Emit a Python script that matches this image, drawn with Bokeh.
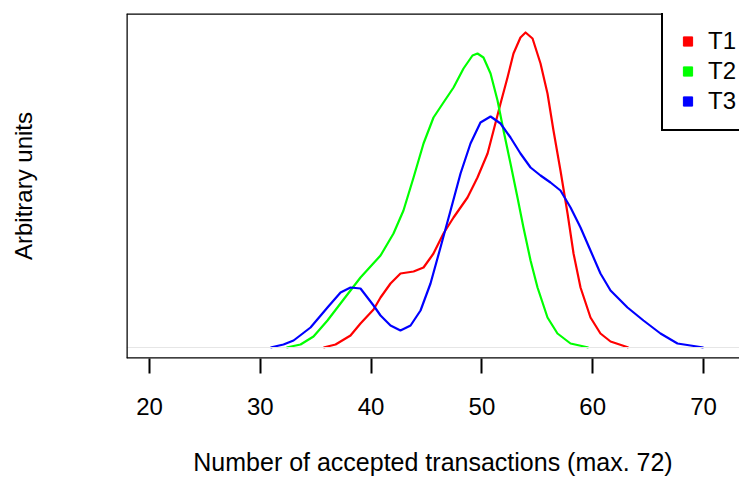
from bokeh.plotting import figure
from bokeh.models import Range1d, Span, Legend, LegendItem, FixedTicker, ColumnDataSource
from bokeh.embed import file_html
from bokeh.resources import INLINE

# ---- data ----
series_names = ["T1", "T2", "T3"]
series_colors = ["#FF0000", "#00FF00", "#0000FF"]

x_t1 = [35.70, 36.79, 38.14, 39.04, 40.22, 40.85, 41.75, 42.65, 43.83, 44.73,
        45.63, 46.53, 47.44, 48.70, 49.60, 50.51, 51.05, 51.68, 52.31, 52.85,
        53.48, 53.94, 54.57, 55.29, 55.92, 56.46, 57.09, 57.73, 58.27, 58.90,
        59.80, 60.70, 61.61, 63.23]
y_t1 = [0, 3, 12, 24, 38, 50, 64, 74, 76, 80,
        94, 114, 130, 150, 170, 194, 217, 244, 270, 294,
        310, 315, 309, 284, 254, 217, 177, 134, 94, 60,
        30, 14, 6, 0]

x_t2 = [32.36, 33.63, 34.80, 36.06, 37.51, 39.04, 40.85, 42.02, 42.92, 43.83,
        44.73, 45.63, 46.53, 47.44, 48.34, 49.15, 49.60, 50.14, 50.78, 51.41,
        51.95, 52.58, 53.21, 53.75, 54.39, 55.02, 55.92, 56.82, 58.00, 59.62]
y_t2 = [0, 3, 11, 27, 48, 70, 92, 114, 137, 170,
        204, 230, 245, 260, 279, 292, 294, 290, 274, 247,
        217, 184, 150, 120, 87, 60, 30, 14, 4, 0]

x_t3 = [30.92, 32.09, 33.00, 34.53, 36.06, 37.24, 38.14, 39.04, 40.22, 40.85,
        41.75, 42.65, 43.56, 44.46, 45.36, 46.26, 47.17, 48.07, 48.97, 49.87,
        50.78, 51.68, 52.58, 53.48, 54.39, 55.29, 56.19, 57.09, 58.00, 58.90,
        59.80, 60.70, 61.61, 63.14, 64.58, 66.12, 67.65, 70.00]
y_t3 = [0, 3, 7, 20, 40, 55, 60, 59, 42, 32,
        22, 17, 22, 37, 64, 100, 137, 174, 204, 225,
        231, 224, 210, 194, 180, 172, 165, 157, 140, 120,
        97, 74, 57, 40, 27, 14, 4, 0]

x_ticks = [20, 30, 40, 50, 60, 70]
x_label = "Number of accepted transactions (max. 72)"
y_label = "Arbitrary units"

# ---- figure ----
FONT = "Liberation Sans"
X0, X1 = 17.92, 73.25
Y0, Y1 = -11, 334

p = figure(width=739, height=479, x_range=Range1d(X0, X1), y_range=Range1d(Y0, Y1),
           output_backend="svg", toolbar_location=None,
           min_border_left=126, min_border_right=0, min_border_top=13, min_border_bottom=121)
p.outline_line_color = None
p.grid.visible = False
p.background_fill_color = "white"
p.border_fill_color = "white"

# zero baseline
p.add_layout(Span(location=0, dimension="width", line_color="#e6e6e6", line_width=1))

for xs, ys, c in zip([x_t1, x_t2, x_t3], [y_t1, y_t2, y_t3], series_colors):
    p.line(xs, ys, line_color=c, line_width=2.2, line_join="round")

# box (left, top, bottom)
for loc, dim in [(X0, "height"), (Y1, "width"), (Y0, "width")]:
    p.add_layout(Span(location=loc, dimension=dim, line_color="black", line_width=2.5))

# x axis
xa = p.xaxis[0]
xa.ticker = FixedTicker(ticks=x_ticks, minor_ticks=[])
xa.axis_line_color = None
xa.major_tick_out = 15
xa.major_tick_in = 0
xa.major_tick_line_width = 2
xa.major_tick_line_color = "black"
xa.minor_tick_line_color = None
xa.major_label_text_font = FONT
xa.major_label_text_font_size = "24px"
xa.major_label_text_color = "black"
xa.major_label_standoff = 24
xa.axis_label = x_label
xa.axis_label_text_font = FONT
xa.axis_label_text_font_size = "25px"
xa.axis_label_text_font_style = "normal"
xa.axis_label_text_color = "black"
xa.axis_label_standoff = 30

# y axis (label only)
ya = p.yaxis[0]
ya.ticker = FixedTicker(ticks=[], minor_ticks=[])
ya.axis_line_color = None
ya.major_tick_out = 0
ya.major_tick_in = 0
ya.minor_tick_line_color = None
ya.major_label_standoff = 0
ya.axis_label = y_label
ya.axis_label_text_font = FONT
ya.axis_label_text_font_size = "24px"
ya.axis_label_text_font_style = "normal"
ya.axis_label_text_color = "black"
ya.axis_label_standoff = 90

# legend with square keys (renderers hold no visible point)
nan = float("nan")
items = []
for name, c in zip(series_names, series_colors):
    src = ColumnDataSource(data=dict(x=[nan], y=[nan]))
    r = p.scatter("x", "y", source=src, marker="square", size=10, fill_color=c, line_color=c)
    items.append(LegendItem(label=name, renderers=[r]))

legend = Legend(items=items, location=(535, 227), padding=13, spacing=0,
                glyph_width=23, glyph_height=30, label_height=30, label_standoff=9,
                label_text_font=FONT, label_text_font_size="24px", label_text_color="black",
                border_line_color="black", border_line_width=2, border_line_alpha=1.0,
                background_fill_color="white", background_fill_alpha=1.0, margin=0)
p.add_layout(legend)

open("out.html", "w").write(file_html(p, INLINE))
